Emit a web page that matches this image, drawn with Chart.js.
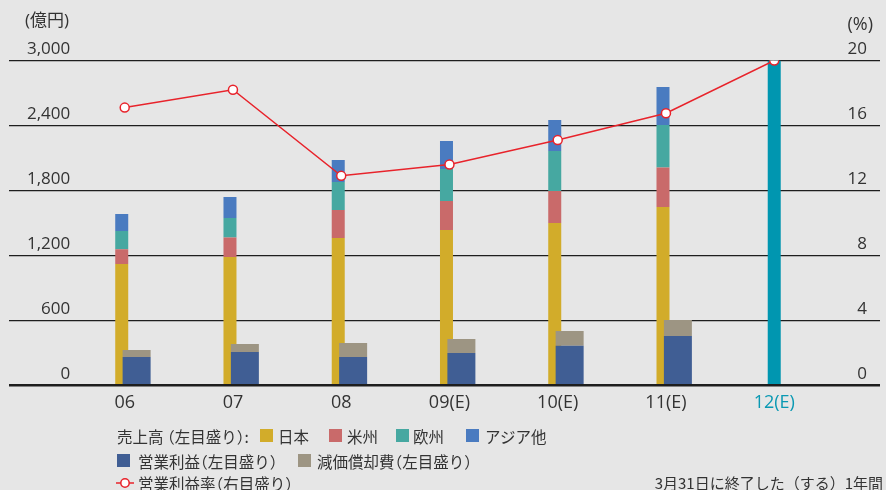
<!DOCTYPE html>
<html lang="ja">
<head>
<meta charset="utf-8">
<title>売上高・営業利益</title>
<script src="https://cdn.jsdelivr.net/npm/chart.js@4/dist/chart.umd.min.js"></script>
<style>
  html, body { margin: 0; padding: 0; background: #e6e6e6; }
  #wrap { position: relative; width: 886px; height: 490px; color: #333;
          font-family: "Open Sans", "Noto Sans CJK JP", sans-serif; }
  #wrap canvas { position: absolute; left: 0; top: 0; }
  .t { position: absolute; white-space: nowrap; line-height: 16px; }
  .unit { font-size: 17px; }
  .lg { font-family: "Noto Sans CJK JP", sans-serif; font-size: 15.5px; }
  .lg b { font-weight: normal; font-feature-settings: "halt"; }
  .sw { position: absolute; width: 13px; height: 13px; }
</style>
</head>
<body>
<div id="wrap">
  <canvas id="myChart" width="886" height="490"></canvas>

  <div class="t unit" style="left:25px; top:12px;">(億円)</div>
  <div class="t unit" style="right:13px; top:15px; font-size:18px;">(%)</div>

  <!-- legend -->
  <div class="t lg" style="left:117px; top:428px;">売上高 <b>（</b>左目盛り<b>）</b>:</div>
  <div class="sw" style="left:260px; top:429px; background:#d2ac2a;"></div>
  <div class="t lg" style="left:278px; top:428px;">日本</div>
  <div class="sw" style="left:329px; top:429px; background:#c96a6a;"></div>
  <div class="t lg" style="left:347px; top:428px;">米州</div>
  <div class="sw" style="left:396px; top:429px; background:#46a8a1;"></div>
  <div class="t lg" style="left:413px; top:428px;">欧州</div>
  <div class="sw" style="left:466px; top:429px; background:#4a7bc0;"></div>
  <div class="t lg" style="left:485px; top:428px;">アジア他</div>

  <div class="sw" style="left:117px; top:454px; background:#405e94;"></div>
  <div class="t lg" style="left:138px; top:453px;">営業利益<b>（</b>左目盛り<b>）</b></div>
  <div class="sw" style="left:298px; top:454px; background:#9d9583;"></div>
  <div class="t lg" style="left:317px; top:453px;">減価償却費<b>（</b>左目盛り<b>）</b></div>

  <svg style="position:absolute; left:115px; top:476px;" width="20" height="14">
    <line x1="1" y1="7" x2="19" y2="7" stroke="#e8232b" stroke-width="1.5"/>
    <circle cx="10" cy="7" r="4.2" fill="#fff" stroke="#e8232b" stroke-width="1.5"/>
  </svg>
  <div class="t lg" style="left:138px; top:475px;">営業利益率<b>（</b>右目盛り<b>）</b></div>

  <div class="t lg" style="right:3px; top:475px; font-size:15px;">3月31日に終了した（する）1年間</div>
</div>

<script>
const CATEGORIES = ['06', '07', '08', '09(E)', '10(E)', '11(E)', '12(E)'];

// 売上高 (億円)
const SALES_JAPAN    = [1121, 1186, 1362, 1435, 1500, 1648, null];
const SALES_AMERICAS = [136, 179, 258, 268, 295, 363, null];
const SALES_EUROPE   = [169, 181, 258, 294, 369, 394, null];
const SALES_ASIA     = [157, 194, 203, 260, 287, 350, null];
const SALES_TOTAL_12 = [null, null, null, null, null, null, 3000];

// 営業利益・減価償却費 (億円)
const OP_PROFIT    = [263, 309, 263, 300, 365, 457, null];
const DEPRECIATION = [65, 74, 129, 129, 138, 148, null];

// 営業利益率 (%)
const OP_MARGIN = [17.1, 18.2, 12.9, 13.6, 15.1, 16.75, 20.0];

const LEFT_TICKS  = { min: 0, max: 3000, step: 600 };
const RIGHT_TICKS = { min: 0, max: 20, step: 4 };

// layout of the category axis in pixels
const PLOT_LEFT = 9, PLOT_RIGHT = 886, FIRST_X = 125.5, STEP = 109;

const pts = arr => arr.map((v, i) => ({ x: i, y: v }));

// a linear x axis whose categories sit `shift` pixels right of the main ones
const xAxis = (shift, show) => ({
  type: 'linear',
  display: show,
  offset: false,
  min: (PLOT_LEFT - FIRST_X - shift) / STEP,
  max: (PLOT_RIGHT - FIRST_X - shift) / STEP,
  grid: { display: false, drawTicks: false },
  border: { display: false },
  afterBuildTicks: scale => { scale.ticks = CATEGORIES.map((c, i) => ({ value: i })); },
  ticks: {
    padding: 7,
    font: { family: 'Open Sans', size: 18 },
    color: c => (c.index === CATEGORIES.length - 1 ? '#0a99b3' : '#333'),
    callback: v => CATEGORIES[v]
  }
});

const ctx = document.getElementById('myChart');

new Chart(ctx, {
  data: {
    datasets: [
      {
        type: 'line', label: '営業利益率', data: pts(OP_MARGIN),
        xAxisID: 'x', yAxisID: 'y1',
        borderColor: '#e8232b', borderWidth: 1.5,
        pointBackgroundColor: '#fff', pointBorderColor: '#e8232b',
        pointBorderWidth: 1.5, pointRadius: 4.5
      },
      { type: 'bar', label: '売上高', data: pts(SALES_TOTAL_12), xAxisID: 'x', yAxisID: 'y',
        backgroundColor: '#0096b0', maxBarThickness: 13 },
      { type: 'bar', label: '営業利益', data: pts(OP_PROFIT), xAxisID: 'xp', yAxisID: 'y',
        backgroundColor: '#405e94', maxBarThickness: 28 },
      { type: 'bar', label: '減価償却費', data: pts(DEPRECIATION), xAxisID: 'xp', yAxisID: 'y',
        backgroundColor: '#9d9583', maxBarThickness: 28 },
      { type: 'bar', label: '日本', data: pts(SALES_JAPAN), xAxisID: 'xs', yAxisID: 'y',
        backgroundColor: '#d2ac2a', maxBarThickness: 13 },
      { type: 'bar', label: '米州', data: pts(SALES_AMERICAS), xAxisID: 'xs', yAxisID: 'y',
        backgroundColor: '#c96a6a', maxBarThickness: 13 },
      { type: 'bar', label: '欧州', data: pts(SALES_EUROPE), xAxisID: 'xs', yAxisID: 'y',
        backgroundColor: '#46a8a1', maxBarThickness: 13 },
      { type: 'bar', label: 'アジア他', data: pts(SALES_ASIA), xAxisID: 'xs', yAxisID: 'y',
        backgroundColor: '#4a7bc0', maxBarThickness: 13 }
    ]
  },
  options: {
    responsive: false,
    animation: false,
    layout: { padding: { top: 60.5, left: PLOT_LEFT, right: 0, bottom: 69 } },
    datasets: { bar: { grouped: false } },
    plugins: { legend: { display: false }, tooltip: { enabled: false } },
    scales: {
      x: xAxis(0, true),
      xs: xAxis(-3, false),
      xp: xAxis(12, false),
      y: {
        position: 'left',
        stacked: true,
        min: LEFT_TICKS.min, max: LEFT_TICKS.max,
        afterFit: scale => { scale.width = 0; },
        border: { display: false },
        grid: {
          drawTicks: false,
          color: '#1e1e1e',
          lineWidth: c => (c.tick.value === 0 ? 2.6 : 1.2)
        },
        ticks: {
          stepSize: LEFT_TICKS.step,
          mirror: true,
          crossAlign: 'far',
          padding: 18,
          labelOffset: -11,
          color: '#333',
          font: { family: 'Open Sans', size: 17 },
          callback: v => v.toLocaleString('en-US')
        }
      },
      y1: {
        position: 'right',
        min: RIGHT_TICKS.min, max: RIGHT_TICKS.max,
        afterFit: scale => { scale.width = 0; },
        border: { display: false },
        grid: { display: false, drawTicks: false },
        ticks: {
          stepSize: RIGHT_TICKS.step,
          mirror: true,
          padding: -13,
          labelOffset: -11,
          color: '#333',
          font: { family: 'Open Sans', size: 17 }
        }
      }
    }
  }
});
</script>
</body>
</html>
